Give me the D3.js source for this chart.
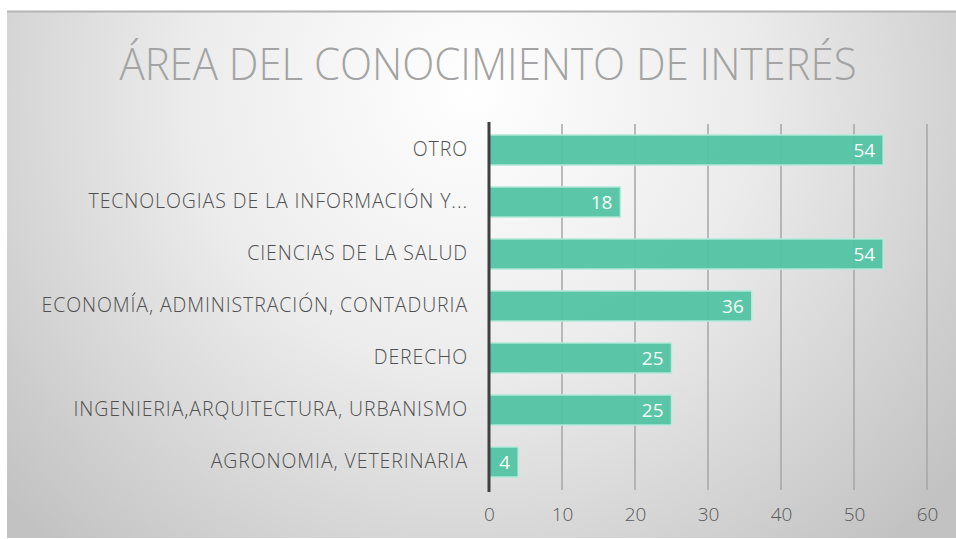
<!DOCTYPE html>
<html>
<head>
<meta charset="utf-8">
<script src="https://cdn.jsdelivr.net/npm/d3@7"></script>
<style>
  html, body { margin: 0; padding: 0; background: #fff; }
  svg { display: block; }
</style>
</head>
<body>
<script>
// chart data
const categories = [
  "OTRO",
  "TECNOLOGIAS DE LA INFORMACIÓN Y...",
  "CIENCIAS DE LA SALUD",
  "ECONOMÍA, ADMINISTRACIÓN, CONTADURIA",
  "DERECHO",
  "INGENIERIA,ARQUITECTURA, URBANISMO",
  "AGRONOMIA, VETERINARIA"
];
const values = [54, 18, 54, 36, 25, 25, 4];
const tickValues = [0, 10, 20, 30, 40, 50, 60];
const title = "ÁREA DEL CONOCIMIENTO DE INTERÉS";

const width = 956, height = 539;
const font = "'Open Sans', Lato, sans-serif";

const svg = d3.select("body").append("svg")
  .attr("width", width)
  .attr("height", height);

// background gradient, white in the upper middle, grey at the edges
const defs = svg.append("defs");
const grad = defs.append("radialGradient")
  .attr("id", "bg")
  .attr("gradientUnits", "userSpaceOnUse")
  .attr("cx", 470).attr("cy", 90).attr("r", 620);
grad.append("stop").attr("offset", "0%").attr("stop-color", "#ffffff");
grad.append("stop").attr("offset", "45%").attr("stop-color", "#ececec");
grad.append("stop").attr("offset", "100%").attr("stop-color", "#c2c2c2");

svg.append("rect")
  .attr("x", 7).attr("y", 11)
  .attr("width", width - 7).attr("height", height - 12)
  .attr("fill", "url(#bg)");
svg.append("line")
  .attr("x1", 7).attr("x2", width)
  .attr("y1", 11.5).attr("y2", 11.5)
  .attr("stroke", "#b4b4b4").attr("stroke-width", 2);

// title
svg.append("text")
  .attr("x", 488).attr("y", 80)
  .attr("text-anchor", "middle")
  .attr("textLength", 737)
  .attr("lengthAdjust", "spacingAndGlyphs")
  .style("font-family", font)
  .style("font-weight", 300)
  .style("font-size", "44px")
  .attr("fill", "#a3a3a3")
  .text(title);

// scales
const x = d3.scaleLinear().domain([0, 60]).range([489, 927]);
const y = d3.scaleBand().domain(categories).range([124, 488]).paddingInner(0.42).paddingOuter(0.21);

// gridlines
svg.append("g")
  .selectAll("line")
  .data(tickValues.slice(1))
  .join("line")
  .attr("x1", d => x(d)).attr("x2", d => x(d))
  .attr("y1", 124).attr("y2", 490)
  .attr("stroke", "#a6a6a6")
  .attr("stroke-width", 1.5);

// bars
svg.append("g")
  .selectAll("rect")
  .data(values)
  .join("rect")
  .attr("x", x(0))
  .attr("y", (d, i) => y(categories[i]))
  .attr("width", d => x(d) - x(0))
  .attr("height", y.bandwidth())
  .attr("fill", "#52c3a3")
  .attr("fill-opacity", 0.95)
  .attr("stroke", "#b9ebdc")
  .attr("stroke-width", 1.5);

// value labels
svg.append("g")
  .selectAll("text")
  .data(values)
  .join("text")
  .attr("x", d => x(d) - 8)
  .attr("y", (d, i) => y(categories[i]) + y.bandwidth() / 2)
  .attr("dy", "0.36em")
  .attr("text-anchor", "end")
  .style("font-family", font)
  .style("font-size", "19px")
  .attr("fill", "#f4fbf8")
  .text(d => d);

// category axis
const yAxis = svg.append("g")
  .attr("transform", `translate(${x(0)},0)`)
  .call(d3.axisLeft(y).tickSize(0).tickPadding(21));
yAxis.select(".domain").remove();
yAxis.selectAll("text")
  .style("font-family", font)
  .style("font-weight", 300)
  .style("font-size", "19.5px")
  .style("letter-spacing", "0.9px")
  .attr("fill", "#505050");

// value axis labels
const xAxis = svg.append("g")
  .attr("transform", "translate(0,490)")
  .call(d3.axisBottom(x).tickValues(tickValues).tickSize(0).tickPadding(18));
xAxis.select(".domain").remove();
xAxis.selectAll("text")
  .style("font-family", font)
  .style("font-weight", 300)
  .style("font-size", "19px")
  .attr("fill", "#595959");

// dark baseline at zero
svg.append("line")
  .attr("x1", x(0)).attr("x2", x(0))
  .attr("y1", 122).attr("y2", 492)
  .attr("stroke", "#404040")
  .attr("stroke-width", 3);
</script>
</body>
</html>
